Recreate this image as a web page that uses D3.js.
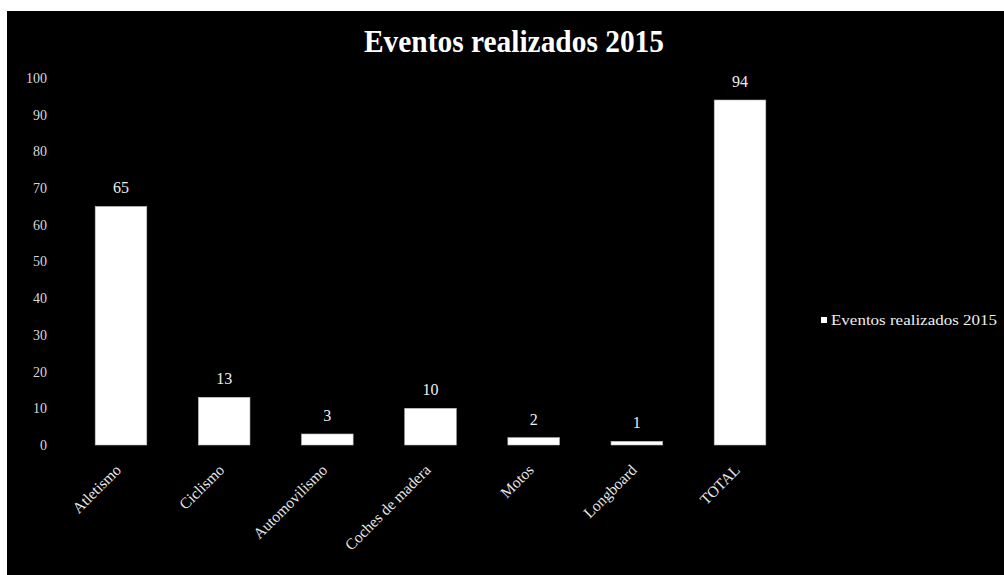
<!DOCTYPE html>
<html>
<head>
<meta charset="utf-8">
<script src="https://cdn.jsdelivr.net/npm/d3@7"></script>
<style>
  html, body { margin: 0; padding: 0; background: #fff; }
  svg { display: block; }
  text { font-family: "Liberation Serif", "Times New Roman", serif; }
</style>
</head>
<body>
<svg id="chart" width="1004" height="575"></svg>
<script>
const categories = ["Atletismo", "Ciclismo", "Automovilismo", "Coches de madera", "Motos", "Longboard", "TOTAL"];
const values = [65, 13, 3, 10, 2, 1, 94];
const yTicks = [0, 10, 20, 30, 40, 50, 60, 70, 80, 90, 100];
const seriesName = "Eventos realizados 2015";
const titleText = "Eventos realizados 2015";

(function () {
const svg = d3.select("#chart");
const W = 1004, H = 575;

svg.append("rect").attr("x", 7).attr("y", 11).attr("width", W - 7).attr("height", H - 11).attr("fill", "#000");

const plotLeft = 69.4, plotRight = 791.6, plotTop = 78, plotBottom = 445;

const x = d3.scaleBand().domain(categories).range([plotLeft, plotRight]).paddingInner(0.5).paddingOuter(0.25);
const y = d3.scaleLinear().domain([0, 100]).range([plotBottom, plotTop]);

// title
svg.append("text")
  .attr("x", 514).attr("y", 52)
  .attr("text-anchor", "middle")
  .attr("fill", "#fff")
  .attr("font-weight", "bold")
  .attr("font-size", 32)
  .attr("textLength", 300)
  .attr("lengthAdjust", "spacingAndGlyphs")
  .text(titleText);

// y axis
const yAxis = d3.axisLeft(y).tickValues(yTicks).tickSize(0).tickPadding(0).tickFormat(d3.format("d"));
const gy = svg.append("g").attr("transform", `translate(47,0)`).call(yAxis);
gy.select(".domain").remove();
gy.selectAll("text").attr("fill", "#d8d8d8").attr("font-size", 14)
  .style("font-family", '"Liberation Serif", serif');

// bars
svg.append("g").selectAll("rect").data(values).join("rect")
  .attr("x", (d, i) => x(categories[i]))
  .attr("y", d => y(d))
  .attr("width", x.bandwidth())
  .attr("height", d => y(0) - y(d))
  .attr("fill", "#fff")
  .attr("stroke", "#bbb")
  .attr("stroke-width", 0.6);

// value labels
svg.append("g").selectAll("text").data(values).join("text")
  .attr("x", (d, i) => x(categories[i]) + x.bandwidth() / 2)
  .attr("y", d => y(d) - 13)
  .attr("text-anchor", "middle")
  .attr("fill", "#eee")
  .attr("font-size", 16)
  .text(d => d);

// x axis
const xAxis = d3.axisBottom(x).tickSize(0).tickPadding(0);
const gx = svg.append("g").attr("transform", `translate(0,${plotBottom})`).call(xAxis);
gx.select(".domain").remove();
gx.selectAll("text")
  .attr("fill", "#e8e8e8")
  .attr("font-size", 15.5)
  .style("font-family", '"Liberation Serif", serif')
  .attr("text-anchor", "end")
  .attr("dy", 0)
  .attr("transform", "translate(1,26) rotate(-45)");

// legend
const lg = svg.append("g").attr("transform", "translate(821,317)");
lg.append("rect").attr("x", 0).attr("y", 0).attr("width", 6).attr("height", 6).attr("fill", "#fff");
lg.append("text").attr("x", 10).attr("y", 8).attr("fill", "#eee").attr("font-size", 15)
  .attr("textLength", 166).attr("lengthAdjust", "spacingAndGlyphs")
  .text(seriesName);
})();
</script>
</body>
</html>
